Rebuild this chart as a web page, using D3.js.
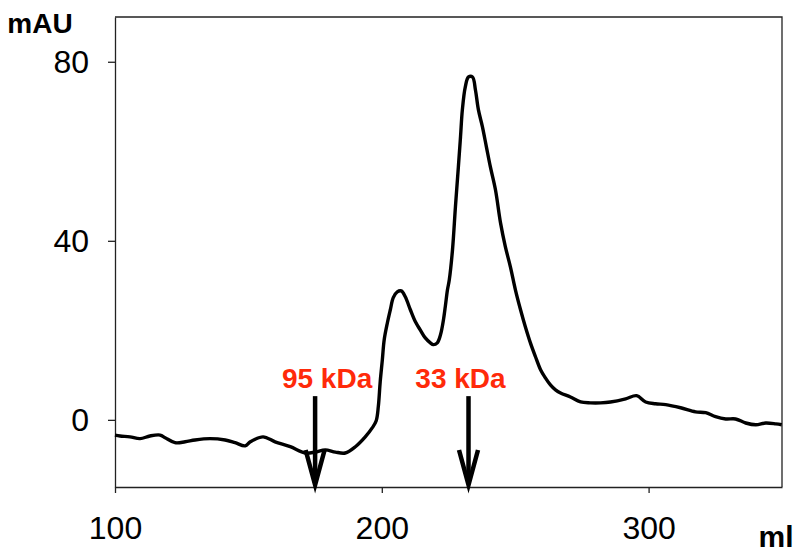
<!DOCTYPE html>
<html>
<head>
<meta charset="utf-8">
<script src="https://cdn.jsdelivr.net/npm/d3@7"></script>
<style>
  html, body { margin: 0; padding: 0; background: #fff; }
  svg { display: block; }
  text { font-family: "Liberation Sans", Arial, sans-serif; }
</style>
</head>
<body>
<svg id="chart" width="798" height="552"></svg>
<script>
// ---- Data ----
const elutionVolume = [
  100, 101.9, 105.6, 109.4, 113.1, 116.9, 118.8, 122.5, 126.3, 130.0,
  135.6, 141.3, 145.0, 148.8, 150.7, 155.5, 160.0, 165.7, 171.3, 175.0,
  178.8, 182.6, 186.3, 190.1, 193.8, 196.4, 197.9, 198.7, 199.4, 200.2,
  200.9, 202.1, 203.2, 204.3, 205.8, 207.3, 208.8, 210.7, 212.6, 214.4,
  216.3, 218.2, 219.3, 220.8, 222.0, 223.1, 223.8, 224.6, 225.3, 226.5,
  227.6, 228.7, 229.5, 230.2, 231.3, 232.5, 234.0, 235.1, 236.2, 237.7,
  239.2, 240.7, 242.6, 244.5, 246.3, 248.2, 250.1, 252.0, 253.8, 255.7,
  257.6, 259.5, 261.3, 263.2, 265.1, 267.0, 270.7, 274.5, 278.2, 282.0,
  285.7, 291.4, 295.5, 298.9, 302.6, 306.4, 312.0, 317.6, 321.4, 325.1,
  328.9, 332.6, 336.4, 340.2, 343.9, 347.7, 349.9
];
const absorbance = [
  -3.4, -3.6, -3.8, -4.2, -3.6, -3.4, -4.0, -5.1, -4.9, -4.5,
  -4.2, -4.5, -5.1, -5.8, -4.9, -3.8, -4.9, -6.0, -7.4, -7.2,
  -6.7, -7.2, -7.4, -6.0, -3.8, -1.8, -0.2, 3.0, 8.5, 13.4,
  17.9, 21.7, 24.6, 27.3, 28.6, 28.8, 27.5, 24.6, 21.9, 20.1,
  18.3, 17.2, 16.8, 17.2, 19.0, 22.3, 25.3, 29.0, 31.3, 38.0,
  47.6, 56.5, 63.2, 69.3, 74.4, 76.6, 76.6, 73.7, 69.3, 65.5,
  61.0, 56.5, 51.4, 44.0, 38.7, 34.2, 29.0, 24.6, 20.8, 17.2,
  14.1, 11.2, 9.4, 7.8, 6.7, 6.0, 5.1, 4.0, 3.8, 3.8,
  4.0, 4.7, 5.4, 4.0, 3.6, 3.4, 2.7, 1.8, 1.6, 0.7,
  0.2, 0.2, -0.7, -1.1, -0.7, -0.9, -1.1
];
const xTickValues = [100, 200, 300];
const yTickValues = [0, 40, 80];
const markerLabels = ["95 kDa", "33 kDa"];
const markerVolumes = [175, 232.5];
const yAxisTitle = "mAU";
const xAxisTitle = "ml";

// ---- Layout ----
const svg = d3.select("#chart");
const plotLeft = 115, plotRight = 782, plotTop = 17, plotBottom = 487;

const x = d3.scaleLinear().domain([100, 350]).range([plotLeft, plotRight]);
const y = d3.scaleLinear().domain([-15, 90]).range([plotBottom, plotTop]);

const axisColor = "#222";

// frame (top and right borders)
svg.append("path")
  .attr("d", `M${plotLeft},${plotTop}H${plotRight}V${plotBottom}`)
  .attr("fill", "none").attr("stroke", axisColor).attr("stroke-width", 1.3);

// y axis
const yAxis = svg.append("g")
  .attr("transform", `translate(${plotLeft},0)`)
  .call(d3.axisLeft(y).tickValues(yTickValues).tickSize(7).tickPadding(19).tickSizeOuter(0));
yAxis.select(".domain").attr("stroke", axisColor).attr("stroke-width", 1.3);
yAxis.selectAll(".tick line").attr("stroke", axisColor).attr("stroke-width", 1.3);
yAxis.selectAll(".tick text")
  .attr("font-size", 32).attr("fill", "#000")
  .attr("font-family", "Liberation Sans, Arial, sans-serif");

// x axis
const xAxis = svg.append("g")
  .attr("transform", `translate(0,${plotBottom})`)
  .call(d3.axisBottom(x).tickValues(xTickValues).tickSize(6).tickPadding(23).tickSizeOuter(0));
xAxis.select(".domain").attr("stroke", axisColor).attr("stroke-width", 1.3);
xAxis.selectAll(".tick line").attr("stroke", axisColor).attr("stroke-width", 1.3);
xAxis.selectAll(".tick text")
  .attr("font-size", 32).attr("fill", "#000")
  .attr("font-family", "Liberation Sans, Arial, sans-serif");

// axis titles
svg.append("text")
  .attr("x", 40).attr("y", 33)
  .attr("text-anchor", "middle")
  .attr("font-size", 28).attr("font-weight", "bold")
  .text(yAxisTitle);
svg.append("text")
  .attr("x", 776).attr("y", 547)
  .attr("text-anchor", "middle")
  .attr("font-size", 30).attr("font-weight", "bold")
  .text(xAxisTitle);

// chromatogram trace
const data = elutionVolume.map((v, i) => [v, absorbance[i]]);
const line = d3.line().x(d => x(d[0])).y(d => y(d[1])).curve(d3.curveCatmullRom.alpha(0.5));
svg.append("path")
  .datum(data)
  .attr("d", line)
  .attr("fill", "none")
  .attr("stroke", "#000")
  .attr("stroke-width", 3.4)
  .attr("stroke-linejoin", "round");

// molecular-weight markers
const labelDx = [12, -8];
markerVolumes.forEach((v, i) => {
  const cx = x(v);
  const yTop = y(5.3);
  const yTip = plotBottom - 2;
  svg.append("line")
    .attr("x1", cx).attr("x2", cx)
    .attr("y1", yTop).attr("y2", yTip - 3)
    .attr("stroke", "#000").attr("stroke-width", 4.5);
  svg.append("path")
    .attr("d", `M${cx - 9.5},${yTip - 35}L${cx},${yTip}L${cx + 9.5},${yTip - 35}`)
    .attr("fill", "none").attr("stroke", "#000")
    .attr("stroke-width", 4.5).attr("stroke-linejoin", "miter");
  svg.append("text")
    .attr("x", cx + labelDx[i]).attr("y", 388)
    .attr("text-anchor", "middle")
    .attr("font-size", 28).attr("font-weight", "bold")
    .attr("fill", "#ff2a0a")
    .text(markerLabels[i]);
});
</script>
</body>
</html>
